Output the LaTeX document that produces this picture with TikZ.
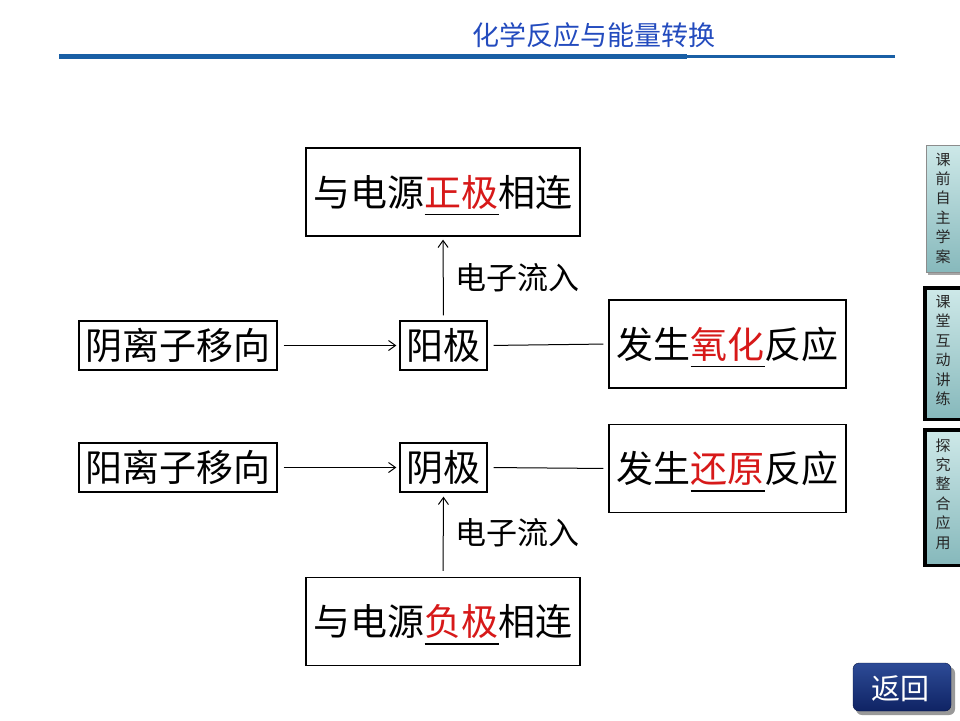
\documentclass[tikz,border=0pt]{standalone}
\usepackage{fontspec}
\newfontfamily\cjk{Noto Sans CJK SC}
\usetikzlibrary{arrows.meta}
\definecolor{hdrblue}{RGB}{35,75,190}
\definecolor{linblue}{RGB}{25,95,165}
\definecolor{kred}{RGB}{215,25,25}
\definecolor{tabA}{RGB}{205,232,232}
\definecolor{tabB}{RGB}{135,185,188}
\definecolor{navyA}{RGB}{45,75,150}
\definecolor{navyB}{RGB}{15,35,100}
\newcommand\kw[1]{\setbox0\hbox{\textcolor{kred}{#1}}\rlap{\smash{\rule[-9pt]{\wd0}{1.5pt}}}\box0}
\begin{document}
\begin{tikzpicture}[x=1pt,y=-1pt,
  box/.style={draw=black,line width=1.3pt,inner sep=0pt,fill=white,
    font=\cjk\fontsize{37}{40}\selectfont},
  bigbox/.style={box,minimum width=274pt,minimum height=88pt},
  ionbox/.style={box,minimum width=198pt,minimum height=49pt},
  polebox/.style={box,minimum width=87pt,minimum height=49pt},
  reactbox/.style={box,minimum width=237pt,minimum height=88pt},
  conn/.style={line width=1pt},
  arr/.style={conn,-{Straight Barb[length=7pt,width=10pt,line width=1pt]}},
  lbl/.style={inner sep=0pt,font=\cjk\fontsize{31}{34}\selectfont,anchor=west},
  tabtxt/.style={inner sep=0pt,align=center,font=\cjk\fontsize{15}{19.4}\selectfont,text=black!85}
]
\useasboundingbox (0,0) rectangle (960,720);
\fill[white] (0,0) rectangle (960,720);

% header
\node[inner sep=0pt,font=\cjk\fontsize{27}{30}\selectfont,text=hdrblue] (hdr) at (594,35) {化学反应与能量转换};
\fill[linblue] (59,54) rectangle (687,58.5);
\fill[linblue] (687,54.5) rectangle (895,58);

% nodes
\node[bigbox] (pos) at (443,192) {与电源\kw{正极}相连};
\node[ionbox] (an) at (178,345.5) {阴离子移向};
\node[polebox] (anode) at (443.5,345.5) {阳极};
\node[reactbox] (ox) at (727.5,344) {发生\kw{氧化}反应};
\node[ionbox] (cat) at (178,467.5) {阳离子移向};
\node[polebox] (cathode) at (443.5,467.5) {阴极};
\node[reactbox] (red) at (727.5,468.5) {发生\kw{还原}反应};
\node[bigbox] (neg) at (443,621.5) {与电源\kw{负极}相连};

% connectors
\draw[arr,shorten <=5pt,shorten >=3pt] (anode.north) -- (pos.south);
\draw[arr,shorten <=6pt,shorten >=3pt] (an.east) -- (anode.west);
\draw[conn,shorten <=6pt,shorten >=5pt] (anode.east) -- (ox.west);
\draw[arr,shorten <=6pt,shorten >=3pt] (cat.east) -- (cathode.west);
\draw[conn,shorten <=6pt,shorten >=5pt] (cathode.east) -- (red.west);
\draw[arr,shorten <=6pt,shorten >=4pt] (neg.north) -- (cathode.south);
\node[lbl] (l1) at (455,278) {电子流入};
\node[lbl] (l2) at (455,533) {电子流入};

% side tabs
\fill[black!35] (928,148) rectangle (962,275);
\shade[top color=tabA,bottom color=tabB,draw=black!45,line width=0.6pt] (926,145) rectangle (962,272);
\node[tabtxt] (t1) at (943,208) {课\\前\\自\\主\\学\\案};
\fill[black] (923,286) rectangle (962,421);
\shade[top color=tabA,bottom color=tabB] (927,290) rectangle (962,417);
\node[tabtxt] (t2) at (943,350.5) {课\\堂\\互\\动\\讲\\练};
\fill[black] (923,428) rectangle (962,567);
\shade[top color=tabA,bottom color=tabB] (927,432) rectangle (962,563);
\node[tabtxt] (t3) at (943,494) {探\\究\\整\\合\\应\\用};

% return button
\fill[black!40,rounded corners=6pt] (856,667) rectangle (955,715);
\shade[top color=navyA,bottom color=navyB,rounded corners=6pt,draw=navyB!70!black] (853,663) rectangle (951,711);
\node[inner sep=0pt,text=white,font=\cjk\fontsize{29}{32}\selectfont] (ret) at (900,689) {返回};
\end{tikzpicture}
\end{document}
